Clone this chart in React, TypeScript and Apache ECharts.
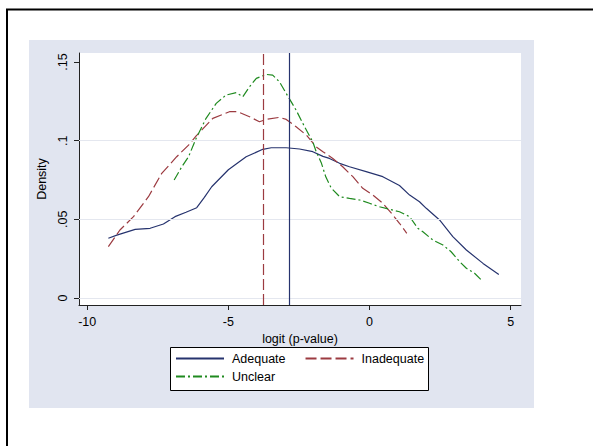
import React, { useEffect, useRef } from "react";
import * as echarts from "echarts";

// ---- data ----
const xTicks = [-10, -5, 0, 5];
const yTicks = [0, 0.05, 0.1, 0.15];
const yTickLabels = ["0", ".05", ".1", ".15"];
const yGridValues = [0, 0.05, 0.1];

const seriesNames = ["Adequate", "Inadequate", "Unclear"];

const adequate: [number, number][] = [
  [-9.25, 0.038], [-8.95, 0.040], [-8.3, 0.0436], [-7.77, 0.0443], [-7.3, 0.047],
  [-6.89, 0.0517], [-6.5, 0.0545], [-6.12, 0.0574], [-5.85, 0.064], [-5.59, 0.0707],
  [-5.0, 0.0815], [-4.37, 0.0898], [-3.78, 0.0945], [-3.48, 0.0955], [-2.95, 0.0955],
  [-2.48, 0.0947], [-2.01, 0.093], [-1.65, 0.090], [-1.42, 0.0887], [-1.06, 0.0856],
  [-0.71, 0.0834], [-0.12, 0.0803], [0.47, 0.0771], [1.06, 0.0715], [1.42, 0.0654],
  [1.77, 0.0612], [2.01, 0.057], [2.48, 0.0496], [2.95, 0.039], [3.43, 0.0305],
  [4.02, 0.022], [4.58, 0.015],
];

const inadequate: [number, number][] = [
  [-9.25, 0.0326], [-8.84, 0.0432], [-8.36, 0.0517], [-7.83, 0.0644], [-7.36, 0.0792],
  [-6.83, 0.0898], [-6.41, 0.0972], [-6.14, 0.103], [-5.55, 0.1142], [-4.96, 0.1184],
  [-4.67, 0.1184], [-4.25, 0.1152], [-3.9, 0.112], [-3.66, 0.1135], [-3.19, 0.1148],
  [-2.95, 0.1135], [-2.6, 0.1088], [-2.24, 0.1036], [-1.89, 0.0961], [-1.65, 0.093],
  [-1.3, 0.0887], [-0.95, 0.0834], [-0.59, 0.0771], [-0.24, 0.0697], [0.12, 0.0654],
  [0.47, 0.0602], [0.83, 0.0527], [1.06, 0.0475], [1.32, 0.0411],
];

const unclear: [number, number][] = [
  [-6.92, 0.075], [-6.65, 0.0834], [-6.41, 0.0898], [-6.14, 0.1015], [-5.79, 0.1142],
  [-5.43, 0.1237], [-5.08, 0.129], [-4.72, 0.1305], [-4.49, 0.1279], [-4.25, 0.1343],
  [-4.01, 0.1396], [-3.66, 0.1421], [-3.43, 0.1417], [-3.19, 0.1374], [-2.95, 0.13],
  [-2.6, 0.1194], [-2.3, 0.1088], [-2.01, 0.0993], [-1.89, 0.093], [-1.71, 0.086],
  [-1.55, 0.077], [-1.36, 0.070], [-1.06, 0.0644], [-0.71, 0.0633], [-0.35, 0.0623],
  [0, 0.0602], [0.35, 0.058], [0.71, 0.0564], [1.06, 0.0548], [1.42, 0.0517],
  [1.71, 0.0443], [1.89, 0.0421], [2.24, 0.0369], [2.6, 0.0337], [2.89, 0.0294],
  [3.19, 0.0231], [3.43, 0.0189], [3.72, 0.0157], [3.96, 0.0114],
];

const refInadequate = -3.78;
const refAdequate = -2.86;

// ---- styles ----
const FONT = "'Liberation Sans', Arial, sans-serif";
const FS = 12.5;
const NAVY = "#26336e";
const MAROON = "#9c3b41";
const GREEN = "#1f8a1f";
const PANEL = "#e1e5f0";
const GRIDC = "#e4e7ef";

export default function App() {
  const ref = useRef<HTMLDivElement>(null);

  useEffect(() => {
    if (!ref.current) return;
    const chart = echarts.init(ref.current, undefined, { renderer: "svg" });

    const textStyle = { fontFamily: FONT, fontSize: FS, color: "#000" };
    const legendCommon = {
      left: 175,
      itemWidth: 48,
      itemHeight: 14,
      itemGap: 19,
      padding: 0,
      selectedMode: false,
      itemStyle: {
        color: "rgba(0,0,0,0)",
        borderColor: "rgba(0,0,0,0)",
        borderWidth: 0,
      },
      textStyle: { ...textStyle, padding: [0, 0, 0, 3] },
    };

    const option: any = {
      animation: false,
      backgroundColor: "#ffffff",
      textStyle: { fontFamily: FONT },
      graphic: [
        {
          type: "rect",
          z: -5,
          shape: { x: 7, y: 9.5, width: 620, height: 460 },
          style: { fill: "#ffffff", stroke: "#000", lineWidth: 2 },
        },
        {
          type: "rect",
          z: -4,
          shape: { x: 29, y: 40, width: 505, height: 368 },
          style: { fill: PANEL },
        },
        {
          type: "rect",
          z: -3,
          shape: { x: 170.5, y: 347.5, width: 258, height: 43 },
          style: { fill: "#ffffff", stroke: "#000", lineWidth: 1 },
        },
      ],
      grid: {
        left: 79,
        top: 53,
        right: 72,
        bottom: 141,
        show: true,
        backgroundColor: "#ffffff",
        borderWidth: 0,
      },
      legend: [
        { ...legendCommon, top: 352, data: [seriesNames[0], seriesNames[1]] },
        { ...legendCommon, top: 370, data: [seriesNames[2]] },
      ],
      xAxis: {
        type: "value",
        min: -10.29,
        max: 5.365,
        name: "logit (p-value)",
        nameLocation: "middle",
        nameGap: 23,
        nameTextStyle: textStyle,
        axisLine: { show: true, onZero: false, lineStyle: { color: "#222", width: 1 } },
        axisTick: { show: true, length: 5, customValues: xTicks, lineStyle: { color: "#222" } },
        axisLabel: { ...textStyle, margin: 10, customValues: xTicks, formatter: (v: number) => String(v) },
        splitLine: { show: false },
      },
      yAxis: {
        type: "value",
        min: -0.00445,
        max: 0.15572,
        name: "Density",
        nameLocation: "middle",
        nameGap: 24,
        nameTextStyle: textStyle,
        axisLine: { show: true, onZero: false, lineStyle: { color: "#222", width: 1 } },
        axisTick: { show: true, length: 5, customValues: yTicks, lineStyle: { color: "#222" } },
        axisLabel: {
          ...textStyle,
          margin: 10,
          rotate: 90,
          customValues: yTicks,
          formatter: (v: number) => {
            let best = 0;
            yTicks.forEach((t, i) => {
              if (Math.abs(t - v) < Math.abs(yTicks[best] - v)) best = i;
            });
            return yTickLabels[best];
          },
        },
        splitLine: { show: false },
      },
      series: [
        {
          type: "line",
          data: [],
          z: 1,
          silent: true,
          markLine: {
            silent: true,
            symbol: "none",
            label: { show: false },
            lineStyle: { color: GRIDC, type: "solid", width: 1 },
            data: yGridValues.map((v) => ({ yAxis: v })),
          },
        },
        {
          name: seriesNames[0],
          type: "line",
          data: adequate,
          symbol: "none",
          color: NAVY,
          lineStyle: { color: NAVY, width: 1.2, type: "solid" },
          z: 3,
        },
        {
          name: seriesNames[1],
          type: "line",
          data: inadequate,
          symbol: "none",
          color: MAROON,
          lineStyle: { color: MAROON, width: 1.2, type: [11, 4] },
          z: 3,
        },
        {
          name: seriesNames[2],
          type: "line",
          data: unclear,
          symbol: "none",
          color: GREEN,
          lineStyle: { color: GREEN, width: 1.2, type: [9, 3, 2, 3] },
          z: 3,
        },
        {
          type: "line",
          data: [],
          z: 4,
          silent: true,
          markLine: {
            silent: true,
            symbol: "none",
            label: { show: false },
            data: [
              { xAxis: refInadequate, lineStyle: { color: MAROON, type: [11, 4], width: 1.2 } },
              { xAxis: refAdequate, lineStyle: { color: NAVY, type: "solid", width: 1.2 } },
            ],
          },
        },
      ],
    };

    chart.setOption(option);
    return () => chart.dispose();
  }, []);

  return (
    <div
      ref={ref}
      style={{ position: "absolute", left: 0, top: 0, width: 593, height: 446 }}
    />
  );
}
